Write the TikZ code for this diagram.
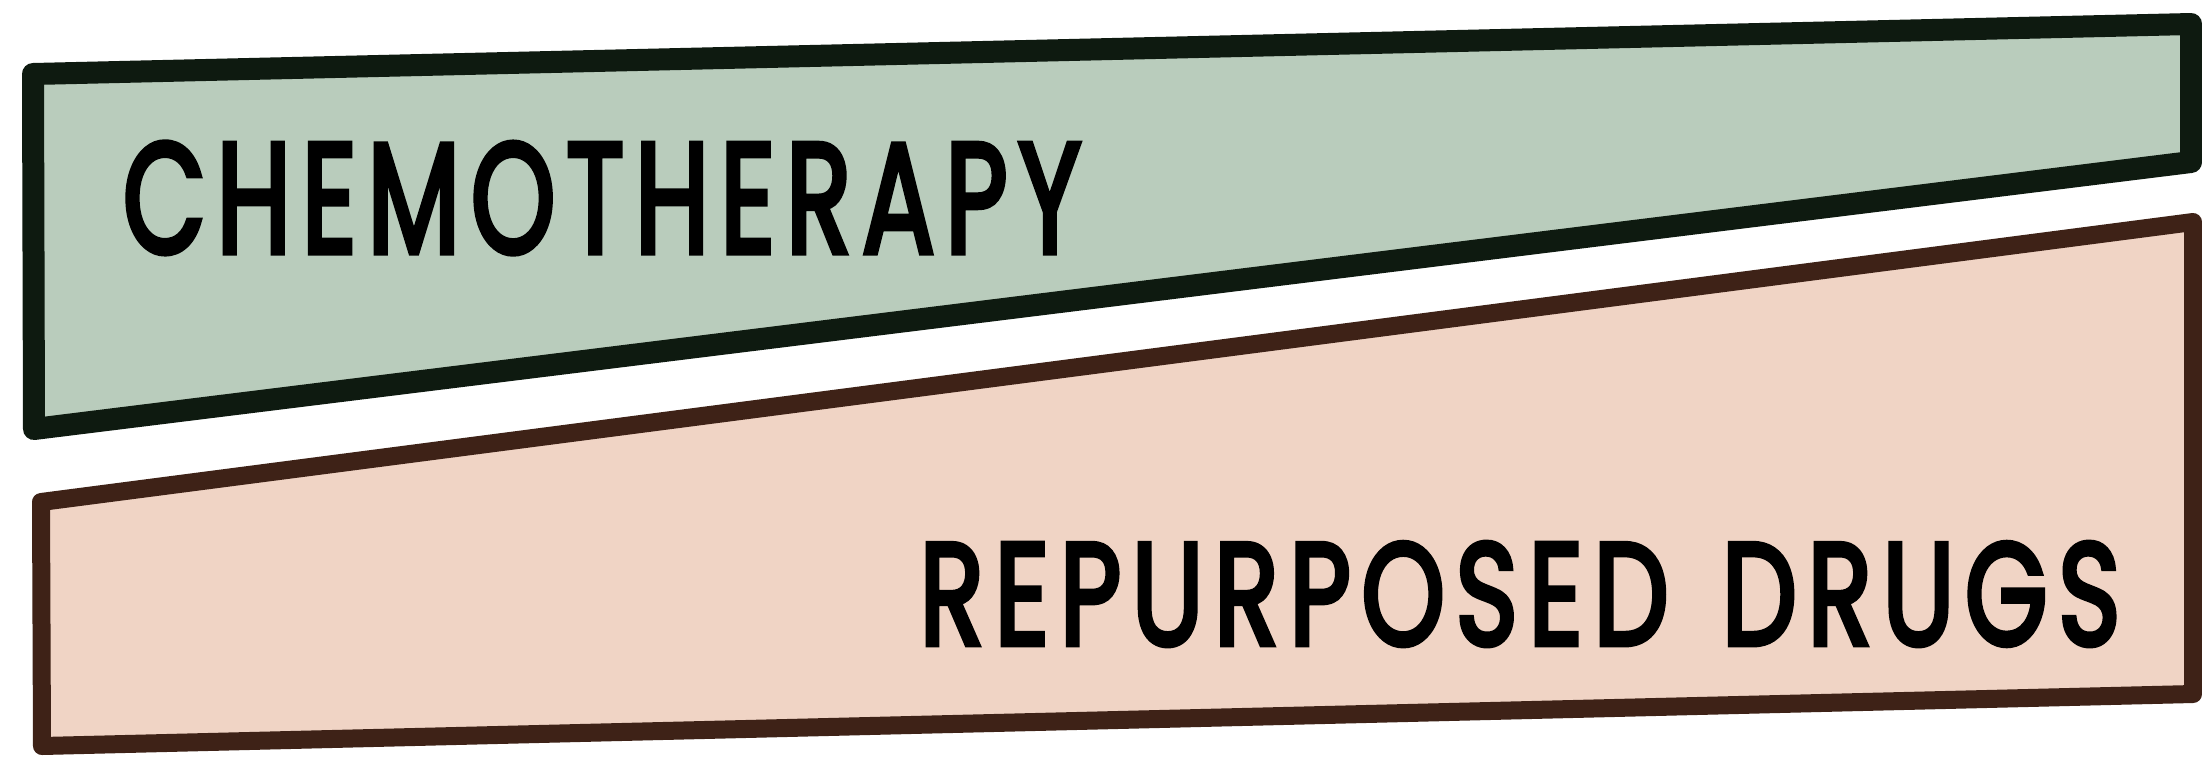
\documentclass[tikz,border=0pt]{standalone}
\usepackage{graphicx}
\usepackage{fontspec}
\setmainfont{Poppins}[LetterSpace=10,FakeBold=4]
\definecolor{sagefill}{RGB}{185,204,188}
\definecolor{sageline}{RGB}{14,26,16}
\definecolor{peachfill}{RGB}{240,212,197}
\definecolor{peachline}{RGB}{62,34,23}
\begin{document}
\begin{tikzpicture}[x=1pt,y=-1pt,
  band/.style={line join=round},
  lbl/.style={inner sep=0pt,text=black}]
\fill[white] (0,0) rectangle (2202,756);
\useasboundingbox (0,0) rectangle (2202,756);
% chemotherapy band
\coordinate (g1) at (33,74);
\coordinate (g2) at (2191,24);
\coordinate (g3) at (2191,162);
\coordinate (g4) at (34,429);
\draw[band,line width=22pt,draw=sageline,fill=sagefill] (g1)--(g2)--(g3)--(g4)--cycle;
% repurposed drugs band
\coordinate (p1) at (41,502);
\coordinate (p2) at (2193,222);
\coordinate (p3) at (2193,694);
\coordinate (p4) at (42,746);
\draw[band,line width=18pt,draw=peachline,fill=peachfill] (p1)--(p2)--(p3)--(p4)--cycle;
% labels
\node[lbl] (chemo) at (602,198) {\resizebox{958pt}{110pt}{CHEMOTHERAPY}};
\node[lbl] (repurp) at (1520,594) {\resizebox{1200pt}{102pt}{REPURPOSED\hspace{0.5em}DRUGS}};
\end{tikzpicture}
\end{document}
